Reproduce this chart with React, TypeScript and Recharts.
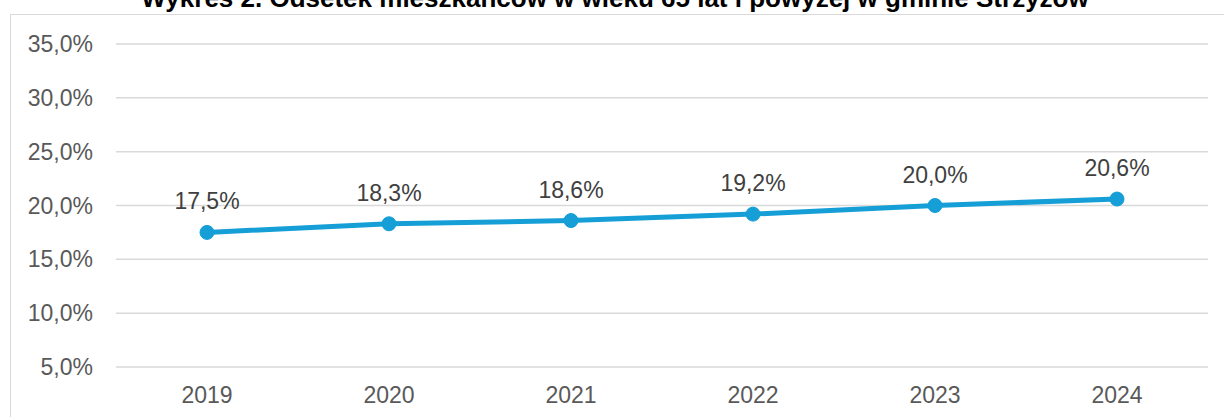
import React from "react";
import { CartesianGrid, LabelList, Line, LineChart, XAxis, YAxis } from "recharts";

const years = ["2019", "2020", "2021", "2022", "2023", "2024"];
const share65plus = [17.5, 18.3, 18.6, 19.2, 20.0, 20.6];
const yTicks = [5, 10, 15, 20, 25, 30, 35];

const data = years.map((year, i) => ({ year, value: share65plus[i] }));

const FONT = "'Liberation Sans', Arial, sans-serif";
const BLUE = "#159fd6";
const GRID = "#d9d9d9";

const fmt = (v: number) => `${v.toFixed(1).replace(".", ",")}%`;

export default function App() {
  return (
    <div
      style={{
        position: "fixed",
        left: 0,
        top: 0,
        width: 1224,
        height: 417,
        overflow: "hidden",
        background: "#fff",
        fontFamily: FONT,
      }}
    >
      <div
        style={{
          position: "absolute",
          left: 10,
          top: 14,
          width: 1300,
          height: 500,
          border: `1.5px solid ${GRID}`,
        }}
      />
      <div
        style={{
          position: "absolute",
          left: 0,
          width: 1224,
          top: -15,
          lineHeight: "26px",
          fontSize: 26,
          fontWeight: "bold",
          textAlign: "center",
          color: "#000",
          paddingLeft: 3,
          whiteSpace: "nowrap",
        }}
      >
        Wykres 2. Odsetek mieszkańców w wieku 65 lat i powyżej w gminie Strzyżów
      </div>
      <div style={{ position: "absolute", left: 0, top: 0 }}>
        <LineChart
          width={1224}
          height={417}
          data={data}
          margin={{ top: 44, right: 16, bottom: 0, left: 0 }}
        >
          <CartesianGrid vertical={false} stroke={GRID} strokeWidth={1.5} />
          <XAxis
            dataKey="year"
            height={50}
            axisLine={false}
            tickLine={false}
            tickSize={0}
            tickMargin={20}
            padding={{ left: 91, right: 91 }}
            tick={{ fill: "#595959", fontSize: 23, fontFamily: FONT }}
          />
          <YAxis
            width={116}
            domain={[5, 35]}
            ticks={yTicks}
            axisLine={false}
            tickLine={false}
            tickSize={0}
            tickMargin={23}
            tickFormatter={fmt}
            tick={{ fill: "#595959", fontSize: 23, fontFamily: FONT }}
          />
          <Line
            dataKey="value"
            stroke={BLUE}
            strokeWidth={5}
            dot={{ r: 7, fill: BLUE, stroke: BLUE, strokeWidth: 1 }}
            activeDot={false}
            isAnimationActive={false}
          >
            <LabelList
              dataKey="value"
              position="top"
              offset={23}
              formatter={(v: any) => fmt(Number(v))}
              fill="#404040"
              fontSize={23}
              fontFamily={FONT}
            />
          </Line>
        </LineChart>
      </div>
    </div>
  );
}
